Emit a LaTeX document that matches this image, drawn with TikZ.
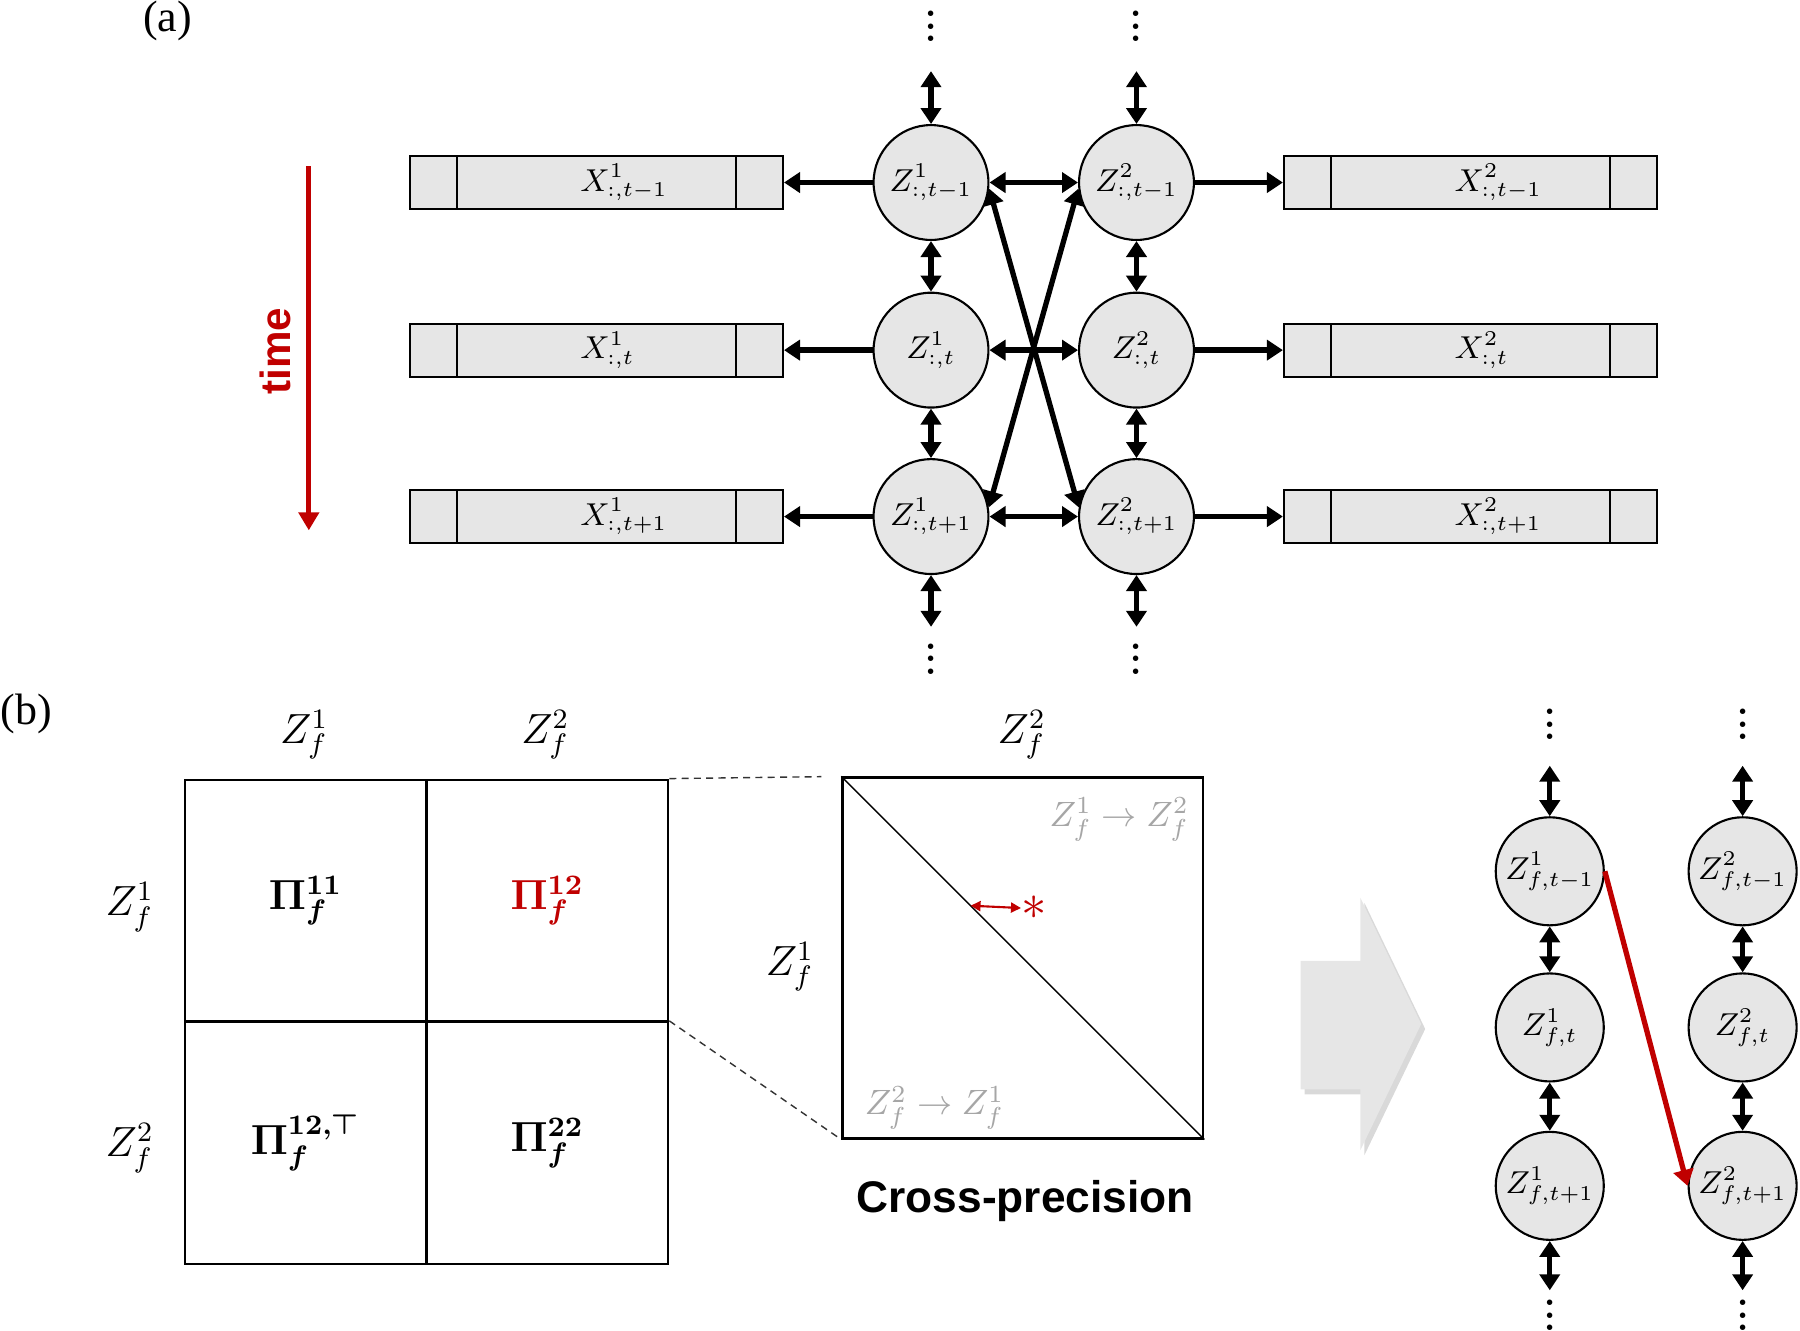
\documentclass[tikz,border=0pt]{standalone}
\usepackage[no-math]{fontspec}
\setsansfont{Liberation Sans}
\newfontfamily\tagfont{Liberation Serif}
\usepackage{bm}
\usetikzlibrary{arrows.meta,calc,positioning,shadows}

\definecolor{nodegray}{RGB}{230,230,230}
\definecolor{markred}{RGB}{192,0,0}
\definecolor{faintgray}{RGB}{166,166,166}

\newcommand{\stackdots}{\vbox{\baselineskip3.6pt\lineskiplimit0pt
  \hbox{\bfseries .}\hbox{\bfseries .}\hbox{\bfseries .}}}

\tikzset{
  latent/.style={
    circle,
    draw,
    fill=nodegray,
    line width=0.6pt,
    minimum size=1.148cm,
    inner sep=0pt,
    font=\small,
  },
  latent small/.style={
    latent,
    minimum size=1.08cm,
  },
  series/.style={
    draw,
    fill=nodegray,
    line width=0.6pt,
    minimum width=3.73cm,
    minimum height=0.53cm,
    inner sep=0pt,
    path picture={
      \draw[line width=0.6pt]
        ([xshift=0.47cm]path picture bounding box.north west)
          -- ([xshift=0.47cm]path picture bounding box.south west)
        ([xshift=-0.47cm]path picture bounding box.north east)
          -- ([xshift=-0.47cm]path picture bounding box.south east);
    },
  },
  series label/.style={
    anchor=west,
    inner sep=0pt,
    font=\small,
  },
  cell/.style={
    draw,
    line width=0.6pt,
    minimum size=2.417cm,
    inner sep=0pt,
    font=\large,
  },
  cross box/.style={
    draw,
    line width=0.7pt,
    minimum size=3.605cm,
    inner sep=0pt,
  },
  axis label/.style={
    inner sep=0pt,
    font=\large,
  },
  faint/.style={
    inner sep=0pt,
    text=faintgray,
  },
  ellipsis/.style={
    inner sep=0pt,
  },
  panel tag/.style={
    inner sep=0pt,
    font=\tagfont\fontsize{12.5}{15}\selectfont,
  },
  zoom line/.style={
    line width=0.4pt,
    black!80,
    dash pattern=on 2pt off 1.5pt,
  },
  big arrow/.style={
    fill=nodegray,
    drop shadow={shadow xshift=0.4mm, shadow yshift=-0.5mm, opacity=0.3},
  },
  link/.style={
    line width=1.5pt,
    -{Triangle[length=1.6mm, width=2mm]},
  },
  link both/.style={
    line width=1.5pt,
    {Triangle[length=1.6mm, width=2mm]}-{Triangle[length=1.6mm, width=2mm]},
  },
}

\begin{document}
\begin{tikzpicture}[x=0.01148cm, y=-0.01148cm]
  \useasboundingbox (0,0) rectangle (1568,1159);

  % (a) two chains over time
  \node[panel tag] (taga) at (146,18) {(a)};

  \coordinate (time0) at (269,145);
  \coordinate (time1) at (269,462);
  \draw[markred, line width=1.4pt, -{Triangle[length=1.8mm, width=2mm]}] (time0) -- (time1);
  \node[rotate=90, text=markred, font=\sffamily\bfseries\fontsize{12}{14}\selectfont] (time) at (240,306) {time};

  \foreach \i/\y/\s in {1/159/{t-1}, 2/305/t, 3/450/{t+1}} {
    \node[latent] (za\i) at (811,\y) {$Z^1_{:,\s}$};
    \node[latent] (zb\i) at (990,\y) {$Z^2_{:,\s}$};
    \node[series] (xa\i) at (519.5,\y) {};
    \node[series] (xb\i) at (1281,\y) {};
    \node[series label] (xal\i) at ($(xa\i.west)+(149,0)$) {$X^1_{:,\s}$};
    \node[series label] (xbl\i) at ($(xb\i.west)+(149,0)$) {$X^2_{:,\s}$};
    \draw[link] (za\i) -- (xa\i);
    \draw[link] (zb\i) -- (xb\i);
    \draw[link both] (za\i) -- (zb\i);
  }

  \foreach \col/\x in {a/811, b/990} {
    \node[ellipsis] (top\col) at (\x,23) {\stackdots};
    \node[ellipsis] (bot\col) at (\x,574) {\stackdots};
    \coordinate (topend\col) at (\x,62);
    \coordinate (botend\col) at (\x,546);
    \draw[link both] (topend\col) -- (z\col1);
    \draw[link both] (z\col1) -- (z\col2);
    \draw[link both] (z\col2) -- (z\col3);
    \draw[link both] (z\col3) -- (botend\col);
  }
  \draw[link both] (za1.-6) -- (zb3.171);
  \draw[link both] (zb1.186) -- (za3.9);

  % (b) precision blocks
  \node[panel tag, anchor=west] (tagb) at (0,622) {(b)};

  \node[cell] (p11) at (266.25,784.5) {$\bm{\Pi_f^{11}}$};
  \node[cell, text=markred] (p12) at (476.75,784.5) {$\bm{\Pi_f^{12}}$};
  \node[cell] (p21) at (266.25,995.5) {$\bm{\Pi_f^{12,\top}}$};
  \node[cell] (p22) at (476.75,995.5) {$\bm{\Pi_f^{22}}$};

  \foreach \k/\x in {1/265, 2/475} {
    \node[axis label] (col\k) at (\x,640) {$Z_f^{\k}$};
  }
  \foreach \k/\y in {1/790, 2/1000} {
    \node[axis label] (row\k) at (113,\y) {$Z_f^{\k}$};
  }

  \node[cross box] (cp) at (891,834.5) {};
  \draw[line width=0.4pt] (cp.north west) -- (cp.south east);
  \draw[zoom line, shorten >=0.2cm] (p12.north east) -- (cp.north west);
  \draw[zoom line] (p22.north east) -- (cp.south west);
  \node[axis label] (cpcol) at (890,640) {$Z_f^2$};
  \node[axis label] (cprow) at (688,842) {$Z_f^1$};
  \node[faint, anchor=north east] (dir12) at ($(cp.north east)+(-13,18)$) {$Z_f^1 \rightarrow Z_f^2$};
  \node[faint, anchor=south west] (dir21) at ($(cp.south west)+(20,-8)$) {$Z_f^2 \rightarrow Z_f^1$};
  \coordinate (diag) at ($(cp.north west)!0.356!(cp.south east)$);
  \node[text=markred, inner sep=0pt, font=\Large] (star) at (901,791) {$\ast$};
  \draw[markred, line width=0.6pt, {Triangle[length=1mm, width=1mm]}-{Triangle[length=1mm, width=1mm]}] (diag) -- (star.west);
  \node[font=\sffamily\bfseries\fontsize{12.6}{15}\selectfont] (caption) at (893,1046) {Cross-precision};

  % (b) unrolled chains
  \fill[big arrow] (1133,837) -- (1185,837) -- (1185,782) -- (1238,892)
    -- (1185,1002) -- (1185,949) -- (1133,949) -- cycle;

  \foreach \i/\y/\s in {1/759/{t-1}, 2/895/t, 3/1033/{t+1}} {
    \node[latent small] (fa\i) at (1350,\y) {$Z^1_{f,\s}$};
    \node[latent small] (fb\i) at (1518,\y) {$Z^2_{f,\s}$};
  }
  \foreach \col/\x in {a/1350, b/1518} {
    \node[ellipsis] (ftop\col) at (\x,631) {\stackdots};
    \node[ellipsis] (fbot\col) at (\x,1146) {\stackdots};
    \coordinate (ftopend\col) at (\x,667);
    \coordinate (fbotend\col) at (\x,1124);
    \draw[link both] (ftopend\col) -- (f\col1);
    \draw[link both] (f\col1) -- (f\col2);
    \draw[link both] (f\col2) -- (f\col3);
    \draw[link both] (f\col3) -- (fbotend\col);
  }
  \draw[link, markred] (fa1.east) -- (fb3.west);

\end{tikzpicture}
\end{document}
